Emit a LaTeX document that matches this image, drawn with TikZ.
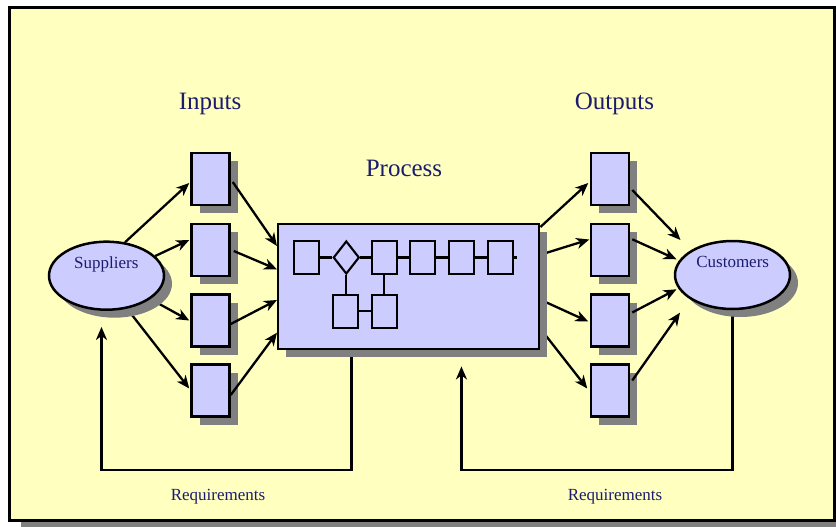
\documentclass[tikz,border=0pt]{standalone}
\usepackage{fontspec}
\setmainfont{Liberation Serif}
\usetikzlibrary{arrows.meta,shadows,shapes.geometric,calc}
\definecolor{boxfill}{RGB}{204,204,255}
\definecolor{pagefill}{RGB}{255,255,192}
\definecolor{shadowgray}{RGB}{128,128,128}
\definecolor{txtblue}{RGB}{28,28,110}
\pgfdeclarelayer{framelayer}
\pgfdeclarelayer{background}
\pgfsetlayers{framelayer,background,main}
\tikzset{
  shd/.style={drop shadow={shadow xshift=8pt,shadow yshift=-8pt,fill=shadowgray,opacity=1}},
  ibox/.style={draw=black,fill=boxfill,line width=2.5pt,minimum width=38pt,minimum height=52pt,inner sep=0pt,shd},
  oval/.style={ellipse,draw=black,fill=boxfill,line width=2.5pt,minimum width=115pt,minimum height=68pt,inner sep=0pt,shd},
  pbox/.style={draw=black,fill=boxfill,line width=2.5pt,minimum width=261pt,minimum height=125pt,inner sep=0pt,shd},
  sbox/.style={draw=black,line width=2.1pt,minimum width=25pt,minimum height=33pt,inner sep=0pt},
  sdia/.style={diamond,draw=black,line width=2.1pt,minimum width=26pt,minimum height=33pt,inner sep=0pt},
  sline/.style={line width=2.1pt},
  arr/.style={line width=2.3pt,-{Stealth[length=13pt,width=11pt,inset=4pt]}},
  fb/.style={line width=2.3pt},
  bigtxt/.style={text=txtblue,font=\fontsize{25}{30}\selectfont,anchor=base,inner sep=0pt},
  smalltxt/.style={text=txtblue,font=\fontsize{17}{20}\selectfont,anchor=base,inner sep=0pt},
}
\begin{document}
\begin{tikzpicture}[x=1pt,y=-1pt]
\useasboundingbox (0,0) rectangle (836,527);
\begin{pgfonlayer}{framelayer}
  \clip (0,0) rectangle (836,527);
  \fill[white] (0,0) rectangle (836,527);
  \fill[shadowgray] (21,14) rectangle (845,535);
  \filldraw[fill=pagefill,draw=black,line width=2.8pt] (9.7,7.2) rectangle (834.3,520.3);
\end{pgfonlayer}

% titles
\node[bigtxt] (tin) at (210,110) {Inputs};
\node[bigtxt] (tout) at (614.5,110) {Outputs};
\node[bigtxt] (tproc) at (404,176) {Process};

% main nodes
\node[oval] (sup) at (106.5,275.7) {};
\node[oval] (cus) at (732.5,275) {};
\node[smalltxt] (tsup) at (106.3,268.3) {Suppliers};
\node[smalltxt] (tcus) at (732.7,267.3) {Customers};

\node[ibox] (in1) at (210.5,179) {};
\node[ibox] (in2) at (210.5,250) {};
\node[ibox] (in3) at (210.5,320.5) {};
\node[ibox] (in4) at (210.5,390.5) {};

\node[ibox] (out1) at (610,179) {};
\node[ibox] (out2) at (610,250) {};
\node[ibox] (out3) at (610,320.5) {};
\node[ibox] (out4) at (610,390.5) {};

\node[pbox] (proc) at (408.7,286.7) {};

% inner process diagram
\node[sbox] (pa) at (306.7,257.5) {};
\node[sdia] (pd) at (346.3,257.5) {};
\node[sbox] (pb) at (384.3,257.5) {};
\node[sbox] (pc) at (422.7,257.5) {};
\node[sbox] (pe1) at (461.7,257.5) {};
\node[sbox] (pe2) at (500.7,257.5) {};
\node[sbox] (pf) at (345.3,311.2) {};
\node[sbox] (pg) at (384.3,311.2) {};
\draw[sline] (pa.east) -- (pd.west);
\draw[sline] (pd.east) -- (pb.west);
\draw[sline] (pb.east) -- (pc.west);
\draw[sline] (pc.east) -- (pe1.west);
\draw[sline] (pe1.east) -- (pe2.west);
\draw[sline] (pe2.east) -- ++(2.5,0);
\draw[sline] (pd.south) -- (pd.south |- pf.north);
\draw[sline] (pb.south) -- (pg.north);
\draw[sline] (pf.east) -- (pg.west);

% connectors behind shadows
\begin{pgfonlayer}{background}
  \draw[arr] (sup.61) -- ($(in1.west)+(-1,4)$);
  \draw[arr] (sup.22) -- ($(in2.west)+(-1,-10)$);
  \draw[arr] (sup.-28) -- ($(in3.west)+(-1,0)$);
  \draw[arr] (sup.-58) -- ($(in4.west)+(-1,-2)$);
  \draw[arr] ($(proc.north east)+(0,4)$) -- ($(out1.west)+(-1.5,4)$);
  \draw[arr] ($(proc.east)+(0,-32)$) -- ($(out2.west)+(-0.5,-10.5)$);
  \draw[arr] ($(proc.east)+(0,13)$) -- ($(out3.west)+(-1.5,1)$);
  \draw[arr] ($(proc.east)+(0,42)$) -- ($(out4.west)+(-2.5,-2)$);
  \draw[fb,arr] ($(proc.south west)+(74.5,0)$) -- ++(0,119.5) -| ($(sup.south)+(-5,16)$);
  \draw[fb,arr] (cus.south) -- ++(0,160) -| ($(proc.south west)+(184.5,16)$);
\end{pgfonlayer}

% connectors on top
\draw[arr] ($(in1.east)+(2,3)$) -- ($(proc.west)+(0,-40.7)$);
\draw[arr] ($(in2.east)+(3,1)$) -- ($(proc.west)+(0,-17.4)$);
\draw[arr] ($(in3.east)+(0,3.5)$) -- ($(proc.west)+(0,13.3)$);
\draw[arr] ($(in4.east)+(0,4.5)$) -- ($(proc.west)+(0,46)$);
\draw[arr] ($(out1.east)+(2,11)$) -- ($(cus.center)+(-52,-35)$);
\draw[arr] ($(out2.east)+(2,-10.7)$) -- ($(cus.center)+(-56,-15.7)$);
\draw[arr] ($(out3.east)+(2,-8)$) -- ($(cus.center)+(-56,14.3)$);
\draw[arr] ($(out4.east)+(2,-10)$) -- ($(cus.center)+(-52.5,37.7)$);

% labels
\node[smalltxt] (req1) at (218,500) {Requirements};
\node[smalltxt] (req2) at (615,500) {Requirements};
\end{tikzpicture}
\end{document}
